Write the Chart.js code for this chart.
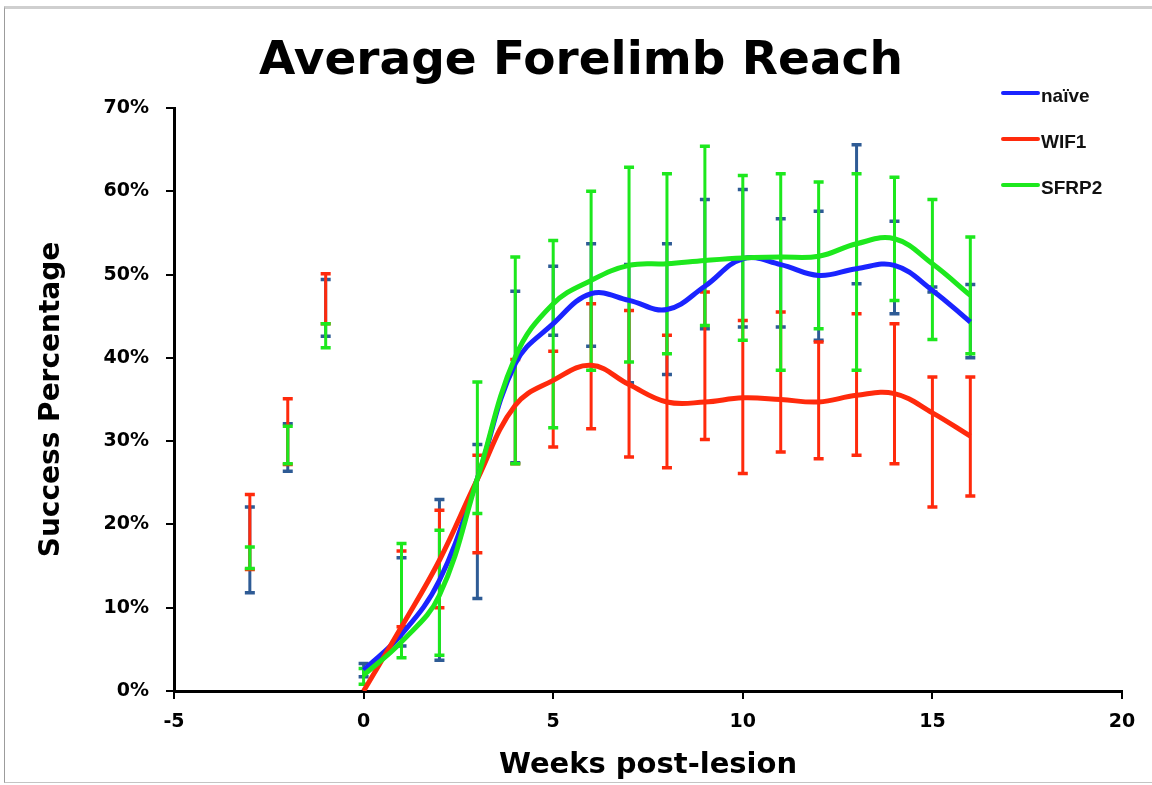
<!DOCTYPE html>
<html>
<head>
<meta charset="utf-8">
<title>Average Forelimb Reach</title>
<script src="https://cdn.jsdelivr.net/npm/chart.js@4.4.1/dist/chart.umd.min.js"></script>
<style>
  html, body { margin: 0; padding: 0; background: #fff; }
  #wrap { position: relative; width: 1152px; height: 785px; overflow: hidden; }
  #frame {
    position: absolute; left: 4px; top: 6px; width: 1160px; height: 777px;
    border-top: 3px solid #cfcfcf; border-left: 1px solid #9c9c9c; border-bottom: 1px solid #c4c4c4;
    box-sizing: border-box;
  }
  canvas { position: absolute; left: 0; top: 0; }
</style>
</head>
<body>
<div id="wrap">
  <div id="frame"></div>
  <canvas id="chart" width="1152" height="785"></canvas>
</div>
<script>
// Weeks relative to the lesion (negative = pre-lesion baseline sessions)
const weeks = [-3, -2, -1, 0, 1, 2, 3, 4, 5, 6, 7, 8, 9, 10, 11, 12, 13, 14, 15, 16];

// Smoothed group curves (success %), only drawn from week 0 onward
const naiveCurve = [null, null, null, 2.5, 6.8, 13.3, 25.5, 39.3, 44.1, 47.7, 46.9, 45.8, 48.6, 51.9, 51.2, 49.9, 50.7, 51.1, 48.1, 44.3];
const wif1Curve  = [null, null, null, 0.0, 7.7, 15.7, 25.4, 34.3, 37.3, 39.1, 36.8, 34.7, 34.7, 35.2, 35.0, 34.7, 35.5, 35.7, 33.4, 30.6];
const sfrp2Curve = [null, null, null, 1.9, 5.9, 11.5, 25.5, 40.1, 46.5, 49.3, 51.1, 51.3, 51.7, 52.0, 52.1, 52.2, 53.7, 54.3, 51.3, 47.5];

// Error bar ends (success %), lower and upper
const naiveLow  = [11.8, 26.4, 42.6, 1.7, 5.4, 3.7, 11.1, 27.4, 42.7, 41.4, 37.0, 38.0, 43.5, 43.7, 43.7, 42.1, 48.9, 45.3, 47.9, 40.0];
const naiveHigh = [22.1, 32.1, 49.4, 3.3, 16.0, 23.0, 29.6, 48.0, 51.0, 53.7, 51.2, 53.7, 59.0, 60.2, 56.7, 57.6, 65.6, 56.4, 48.5, 48.8];
const wif1Low   = [14.6, 27.2, 44.1, 0.0, 7.7, 10.0, 16.6, 27.3, 29.3, 31.5, 28.1, 26.8, 30.2, 26.1, 28.7, 27.9, 28.3, 27.3, 22.1, 23.4];
const wif1High  = [23.6, 35.1, 50.1, 0.0, 16.8, 21.7, 28.3, 39.8, 40.8, 46.5, 45.7, 42.7, 47.9, 44.5, 45.5, 41.9, 45.3, 44.1, 37.7, 37.7];
const sfrp2Low  = [14.7, 27.3, 41.2, 0.8, 4.0, 4.3, 21.3, 27.3, 31.6, 38.5, 39.5, 40.5, 43.9, 42.1, 38.5, 43.5, 38.5, 46.9, 42.2, 40.5];
const sfrp2High = [17.3, 31.8, 44.1, 2.7, 17.7, 19.3, 37.1, 52.1, 54.1, 60.0, 62.9, 62.1, 65.4, 61.9, 62.1, 61.1, 62.1, 61.7, 59.0, 54.5];

// Axis ticks
const xTicks = [-5, 0, 5, 10, 15, 20];
const yTicks = [0, 10, 20, 30, 40, 50, 60, 70];

const seriesNames = ['naïve', 'WIF1', 'SFRP2'];

const toPoints = curve => weeks
  .map((w, i) => ({ x: w, y: curve[i] }))
  .filter(p => p.y !== null);

const groups = [
  { name: seriesNames[0], curve: naiveCurve, low: naiveLow, high: naiveHigh, line: '#1a24ff', bar: '#2e5b95' },
  { name: seriesNames[1], curve: wif1Curve,  low: wif1Low,  high: wif1High,  line: '#ff2a0c', bar: '#ff2a0c' },
  { name: seriesNames[2], curve: sfrp2Curve, low: sfrp2Low, high: sfrp2High, line: '#1de81d', bar: '#1de81d' }
];

// Vertical error bars with caps, painted under the curves
const errorBars = {
  id: 'errorBars',
  beforeDatasetsDraw(chart) {
    const { ctx, scales: { x, y } } = chart;
    ctx.save();
    ctx.lineCap = 'butt';
    groups.forEach(g => {
      ctx.strokeStyle = g.bar;
      weeks.forEach((w, i) => {
        const lo = g.low[i], hi = g.high[i];
        if (lo === null || hi === null || hi <= lo) return;
        const px = x.getPixelForValue(w);
        const pLo = y.getPixelForValue(lo);
        const pHi = y.getPixelForValue(hi);
        ctx.lineWidth = 3;
        ctx.beginPath();
        ctx.moveTo(px, pLo);
        ctx.lineTo(px, pHi);
        ctx.stroke();
        ctx.lineWidth = 3.5;
        ctx.beginPath();
        ctx.moveTo(px - 5, pLo); ctx.lineTo(px + 5, pLo);
        ctx.moveTo(px - 5, pHi); ctx.lineTo(px + 5, pHi);
        ctx.stroke();
      });
    });
    ctx.restore();
  }
};

// Heading and the small legend in the top-right corner
const heading = {
  id: 'heading',
  afterDraw(chart) {
    const { ctx } = chart;
    ctx.save();
    ctx.fillStyle = '#000';
    ctx.font = 'bold 47px "DejaVu Sans"';
    ctx.textAlign = 'center';
    ctx.textBaseline = 'alphabetic';
    ctx.fillText('Average Forelimb Reach', 581, 74);

    ctx.font = 'bold 19px "Liberation Sans"';
    ctx.textAlign = 'left';
    chart.data.datasets.forEach((ds, i) => {
      const ly = 93 + i * 46;
      ctx.strokeStyle = ds.borderColor;
      ctx.lineWidth = 4;
      ctx.lineCap = 'round';
      ctx.beginPath();
      ctx.moveTo(1003, ly);
      ctx.lineTo(1038, ly);
      ctx.stroke();
      ctx.fillStyle = '#111';
      ctx.fillText(ds.label, 1041, ly + 9);
    });
    ctx.restore();
  }
};

const tickFont = { family: 'DejaVu Sans', size: 19, weight: 'bold' };

new Chart(document.getElementById('chart'), {
  type: 'scatter',
  data: {
    datasets: groups.map((g, i) => ({
      label: g.name,
      data: toPoints(g.curve),
      showLine: true,
      borderColor: g.line,
      backgroundColor: g.line,
      borderWidth: 5,
      pointRadius: 0,
      tension: 0.4,
      order: groups.length - i
    }))
  },
  options: {
    responsive: false,
    animation: false,
    devicePixelRatio: 1,
    layout: { padding: { top: 108, right: 30, bottom: 0, left: 0 } },
    plugins: {
      legend: { display: false },
      title: { display: false },
      tooltip: { enabled: false }
    },
    scales: {
      x: {
        type: 'linear',
        min: xTicks[0],
        max: xTicks[xTicks.length - 1],
        afterBuildTicks: s => { s.ticks = xTicks.map(v => ({ value: v })); },
        ticks: { font: tickFont, color: '#000', padding: 12, maxRotation: 0 },
        grid: { display: true, drawOnChartArea: false, drawTicks: true, tickLength: 8, color: '#000', lineWidth: 2 },
        border: { display: true, color: '#000', width: 3 },
        title: {
          display: true,
          text: 'Weeks post-lesion',
          color: '#000',
          font: { family: 'DejaVu Sans', size: 29, weight: 'bold' },
          padding: { top: 0, bottom: 2 }
        },
        afterFit: s => { s.height = 94; }
      },
      y: {
        type: 'linear',
        min: yTicks[0],
        max: yTicks[yTicks.length - 1],
        afterBuildTicks: s => { s.ticks = yTicks.map(v => ({ value: v })); },
        ticks: { font: tickFont, color: '#000', padding: 17, callback: v => v + '%' },
        grid: { display: true, drawOnChartArea: false, drawTicks: true, tickLength: 8, color: '#000', lineWidth: 2 },
        border: { display: true, color: '#000', width: 3 },
        title: {
          display: true,
          text: 'Success Percentage',
          color: '#000',
          font: { family: 'DejaVu Sans', size: 28, weight: 'bold' },
          padding: { top: 35, bottom: 0 }
        },
        afterFit: s => { s.width = 174; }
      }
    }
  },
  plugins: [errorBars, heading]
});
</script>
</body>
</html>
